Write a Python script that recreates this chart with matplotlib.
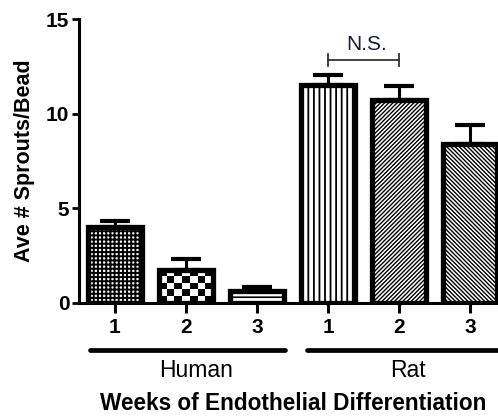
import matplotlib
matplotlib.use("Agg")
import matplotlib.pyplot as plt
import matplotlib.transforms as mtransforms
import numpy as np

plt.rcParams['font.family'] = ['Liberation Sans', 'DejaVu Sans']

# ---- data ----
week_labels = ["1", "2", "3", "1", "2", "3"]
groups = ["Human", "Rat"]
human_means = [4.0, 1.75, 0.65]
human_err = [0.35, 0.55, 0.2]
rat_means = [11.5, 10.7, 8.4]
rat_err = [0.55, 0.75, 1.0]
y_ticks = [0, 5, 10, 15]
ns_pair = (3, 4)
ns_height = 12.85

means = human_means + rat_means
errs = human_err + rat_err
x = np.arange(len(means))

fig = plt.figure(figsize=(4.98, 4.17), dpi=100)
ax = fig.add_axes([0.1586, 0.2734, 1.0 - 0.1586, 0.681])

plt.rcParams['hatch.linewidth'] = 1.2
hatches = ['++++', None, '---', '|||', '////////', '\\\\\\\\\\\\\\\\']
hatch_lw = [1.4, 1.0, 1.2, 1.3, 1.0, 1.0]

bars = ax.bar(x, means, width=0.75, color='white', edgecolor='black',
              linewidth=3.8, zorder=2)
for b, h, hl in zip(bars, hatches, hatch_lw):
    if h:
        b.set_hatch(h)
        try:
            b.set_hatch_linewidth(hl)
        except Exception:
            pass

# checkerboard for Human week 2
b = bars[1]
b.set_facecolor('none')
x0, w = b.get_x(), b.get_width()
h = b.get_height()
nx, ny = 7, 5
cb = (np.indices((ny, nx)).sum(axis=0) % 2).astype(float)
im = ax.imshow(cb, cmap='gray', extent=(x0, x0 + w, 0, h), aspect='auto',
               interpolation='nearest', zorder=1.9)
im.set_clip_path(b)

ax.errorbar(x, means, yerr=[np.zeros(len(errs)), errs], fmt='none',
            ecolor='black', elinewidth=2.2, capsize=11, capthick=3.0, zorder=1.5)

ax.set_xlim(-0.507, 5.394)
ax.set_ylim(0, 15)
ax.set_yticks(y_ticks)
ax.set_yticklabels([str(t) for t in y_ticks], fontsize=15, fontweight='bold')
ax.set_xticks(x)
ax.set_xticklabels(week_labels, fontsize=15, fontweight='bold')
ax.tick_params(axis='y', length=5, width=2, pad=2)
ax.tick_params(axis='x', length=7, width=2.2, pad=4)
for s in ['top', 'right']:
    ax.spines[s].set_visible(False)
for s in ['left', 'bottom']:
    ax.spines[s].set_linewidth(2.2)

ax.set_ylabel("Ave # Sprouts/Bead", fontsize=15.5, fontweight='bold', labelpad=8)

# group lines
trans = mtransforms.blended_transform_factory(ax.transData, ax.transAxes)
ax.plot([-0.35, 2.39], [-0.167, -0.167], transform=trans, color='black',
        lw=3.4, solid_capstyle='round', clip_on=False)
ax.plot([2.70, 5.6], [-0.167, -0.167], transform=trans, color='black',
        lw=3.4, solid_capstyle='round', clip_on=False)
ax.text(1.14, -0.237, groups[0], transform=trans, ha='center', va='center', fontsize=16.5)
ax.text(4.13, -0.237, groups[1], transform=trans, ha='center', va='center', fontsize=16.5)
fig.text(0.588, 1 - 403 / 417, "Weeks of Endothelial Differentiation",
         ha='center', va='center', fontsize=16.3, fontweight='bold')

# N.S. bracket
a, c = ns_pair
ax.plot([a, c], [ns_height, ns_height], color='#333333', lw=1.3, clip_on=False)
ax.plot([a, a], [ns_height + 0.32, ns_height - 0.32], color='#333333', lw=1.3)
ax.plot([c, c], [ns_height + 0.32, ns_height - 0.32], color='#333333', lw=1.3)
ax.text((a + c) / 2 + 0.05, ns_height + 0.3, "N.S.", ha='center', va='bottom',
        fontsize=15, color='#1a1a3a')

fig.savefig("out.png", dpi=100)
